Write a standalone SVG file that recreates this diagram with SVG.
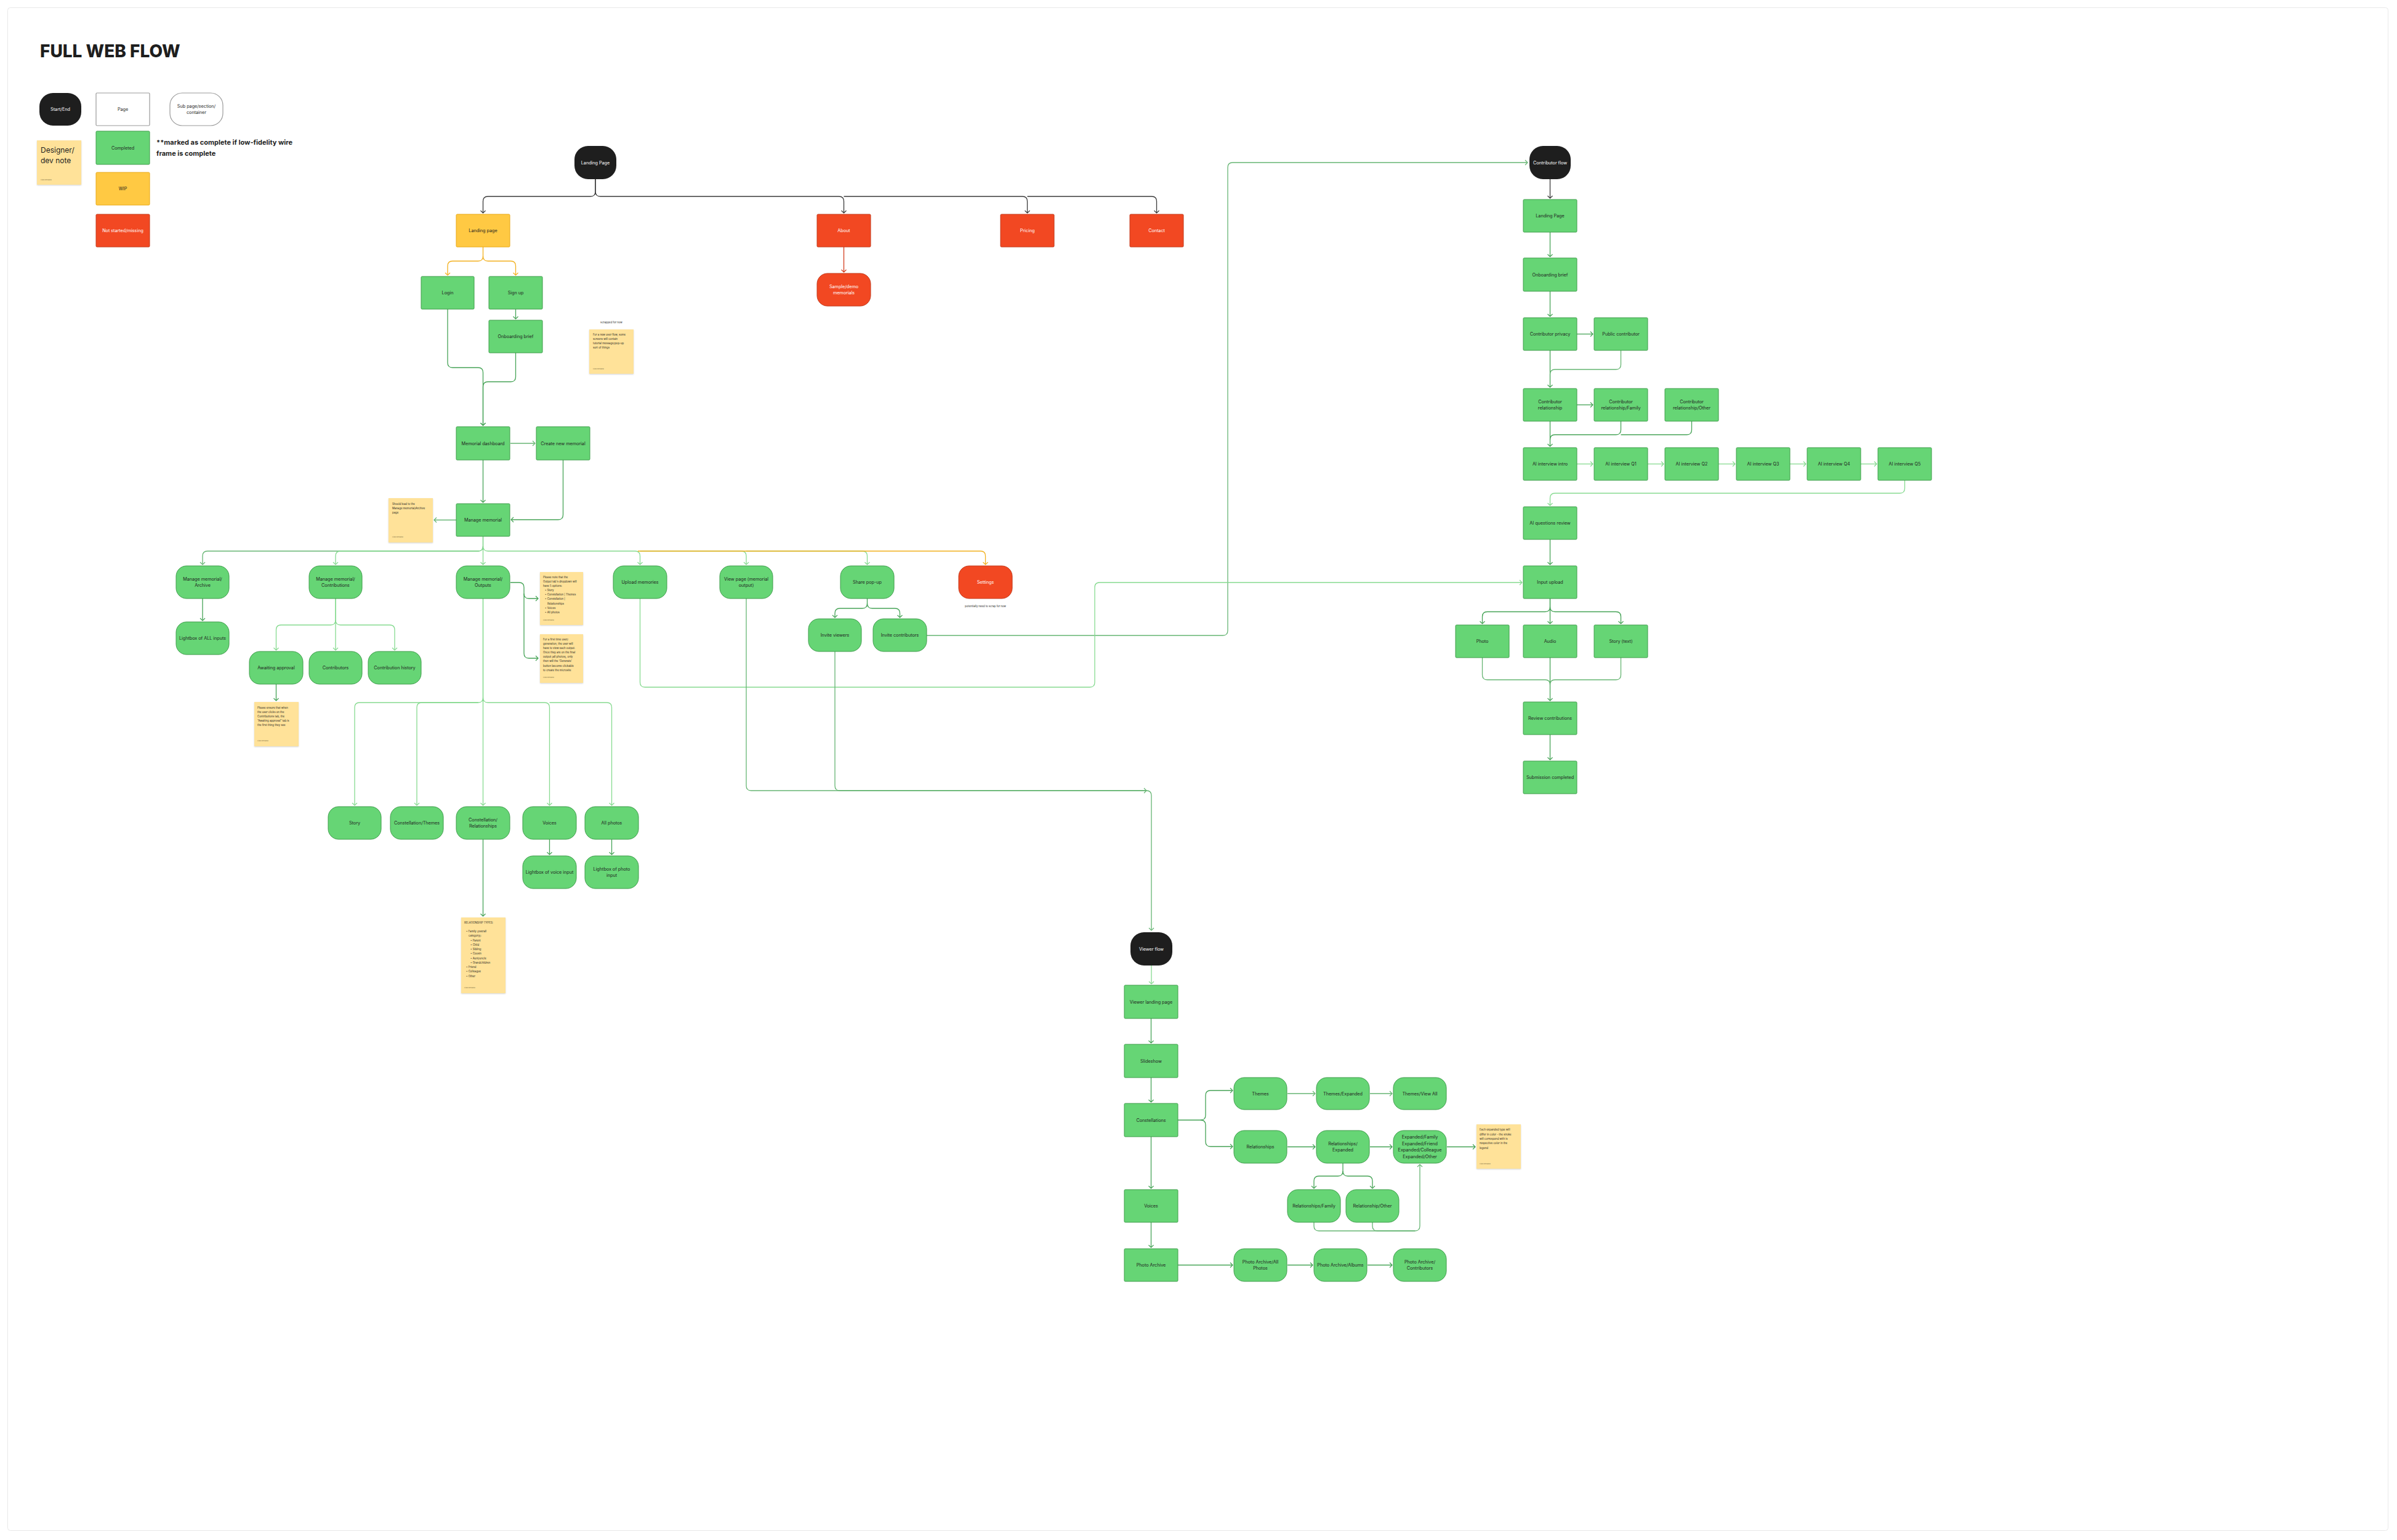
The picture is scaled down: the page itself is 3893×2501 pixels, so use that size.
<svg xmlns="http://www.w3.org/2000/svg" width="3893" height="2501" viewBox="0 0 3893 2501">
<style>
text{font-family:Inter,"Liberation Sans","DejaVu Sans",sans-serif;fill:#1E1E1E}
.t{font-size:7.2px;text-anchor:middle}
.tw{fill:#FFFFFF}
.g{fill:#66D575;stroke:#3E9C4B;stroke-width:1}
.y{fill:#FFC943;stroke:#E8A817;stroke-width:1}
.r{fill:#F24822;stroke:#C23A1C;stroke-width:1}
.k{fill:#1E1E1E}
.wpage{fill:#FFFFFF;stroke:#9A9A9A;stroke-width:1.2}
.note{fill:#FFE299;filter:url(#sh)}
.nt{font-size:4.3px}
.au{font-size:2.6px;fill:#8C7A4C}
.c{fill:none;stroke-width:1.3}
.ck{stroke:#3A3A3A;marker-end:url(#mk)}
.cd{stroke:#45A356;marker-end:url(#md)}
.cl{stroke:#86DA90;marker-end:url(#ml)}
.cm{stroke:#66B573;marker-end:url(#mm)}
.cy{stroke:#F2B01E;marker-end:url(#my)}
.cr{stroke:#D23C1E;marker-end:url(#mr)}
.nm{marker-end:none}
</style>
<defs>
<filter id="sh" x="-10%" y="-10%" width="130%" height="130%"><feDropShadow dx="0" dy="1" stdDeviation="1" flood-opacity="0.18"/></filter>
<marker id="mk" viewBox="0 0 10 10" refX="9" refY="5" markerWidth="10" markerHeight="10" markerUnits="userSpaceOnUse" orient="auto"><path d="M5,1 L9,5 L5,9" fill="none" stroke="#3A3A3A" stroke-width="1.2"/></marker>
<marker id="md" viewBox="0 0 10 10" refX="9" refY="5" markerWidth="10" markerHeight="10" markerUnits="userSpaceOnUse" orient="auto"><path d="M5,1 L9,5 L5,9" fill="none" stroke="#45A356" stroke-width="1.2"/></marker>
<marker id="ml" viewBox="0 0 10 10" refX="9" refY="5" markerWidth="10" markerHeight="10" markerUnits="userSpaceOnUse" orient="auto"><path d="M5,1 L9,5 L5,9" fill="none" stroke="#86DA90" stroke-width="1.2"/></marker>
<marker id="mm" viewBox="0 0 10 10" refX="9" refY="5" markerWidth="10" markerHeight="10" markerUnits="userSpaceOnUse" orient="auto"><path d="M5,1 L9,5 L5,9" fill="none" stroke="#66B573" stroke-width="1.2"/></marker>
<marker id="my" viewBox="0 0 10 10" refX="9" refY="5" markerWidth="10" markerHeight="10" markerUnits="userSpaceOnUse" orient="auto"><path d="M5,1 L9,5 L5,9" fill="none" stroke="#F2B01E" stroke-width="1.2"/></marker>
<marker id="mr" viewBox="0 0 10 10" refX="9" refY="5" markerWidth="10" markerHeight="10" markerUnits="userSpaceOnUse" orient="auto"><path d="M5,1 L9,5 L5,9" fill="none" stroke="#D23C1E" stroke-width="1.2"/></marker>
</defs>
<rect x="0" y="0" width="3893" height="2501" fill="#FFFFFF"/>
<rect x="12.5" y="12.5" width="3866" height="2473" rx="4" fill="#FFFFFF" stroke="#E8E8E8" stroke-width="1"/>

<text x="65" y="93" style="font-size:28px;font-weight:800">FULL WEB FLOW</text>

<g id="legend">
<g id="legend-start"><rect class="k" x="64" y="151" width="68" height="53" rx="22"/><text class="t tw" x="98" y="180.1">Start/End</text></g>
<g id="legend-page"><rect class="wpage" x="156" y="151" width="87" height="53" rx="1.5"/><text class="t" x="199.5" y="180.1">Page</text></g>
<g id="legend-sub"><rect class="wpage" x="276" y="151" width="86" height="53" rx="20"/><text class="t" x="319" y="174.7">Sub page/section/</text><text class="t" x="319" y="185.4">container</text></g>
<g id="legend-completed"><rect class="g" x="156" y="213" width="87" height="54" rx="1.5"/><text class="t" x="199.5" y="242.6">Completed</text></g>
<g id="legend-wip"><rect class="y" x="156" y="280" width="87" height="53" rx="1.5"/><text class="t" x="199.5" y="309.1">WIP</text></g>
<g id="legend-missing"><rect class="r" x="156" y="348" width="87" height="53" rx="1.5"/><text class="t tw" x="199.5" y="377.1">Not started/missing</text></g>
<g id="legend-note"><rect class="note" x="60" y="228" width="72" height="72"/><text x="66" y="248" style="font-size:12px">Designer/</text><text x="66" y="265" style="font-size:12px">dev note</text><text class="au" x="66" y="293">Kiara Bendana</text></g>
<text x="254" y="235" style="font-size:11px;font-weight:700">**marked as complete if low-fidelity wire</text>
<text x="254" y="253" style="font-size:11px;font-weight:700">frame is complete</text>
</g>

<g id="connectors">
<path class="c ck" d="M967,291 V311 Q967,319 959,319 H792.5 Q784.5,319 784.5,327 V346"/>
<path class="c ck" d="M967,291 V311 Q967,319 975,319 H1362.5 Q1370.5,319 1370.5,327 V346"/>
<path class="c ck" d="M1370.5,319 H1660.5 Q1668.5,319 1668.5,327 V346"/>
<path class="c ck" d="M1668.5,319 H1870.5 Q1878.5,319 1878.5,327 V346"/>
<path class="c cr" d="M1370.5,401 V442"/>
<path class="c cy" d="M784.5,401 V416 Q784.5,424 776.5,424 H735 Q727,424 727,432 V447"/>
<path class="c cy" d="M784.5,416 Q784.5,424 792.5,424 H829.5 Q837.5,424 837.5,432 V447"/>
<path class="c cd" d="M837.5,502 V518"/>
<path class="c cd" d="M727,502 V589 Q727,597 735,597 H776.5 Q784.5,597 784.5,605 V691"/>
<path class="c cd" d="M837.5,573 V612 Q837.5,620 829.5,620 H792.5 Q784.5,620 784.5,628 V691"/>
<path class="c cm" d="M829,720 H869"/>
<path class="c cd" d="M784.5,747 V816"/>
<path class="c cd" d="M914.5,747 V836 Q914.5,844 906.5,844 H830"/>
<path class="c cm" d="M741,844.5 H705"/>
<path class="c cm" d="M784.5,871 V887 Q784.5,895 776.5,895 H337 Q329,895 329,903 V917"/>
<path class="c cl" d="M784.5,887 Q784.5,895 776.5,895 H553 Q545,895 545,903 V917"/>
<path class="c cl" d="M784.5,871 V917"/>
<path class="c cl" d="M784.5,887 Q784.5,895 792.5,895 H1031.5 Q1039.5,895 1039.5,903 V917"/>
<path class="c cl" d="M1039.5,895 H1204 Q1212,895 1212,903 V917"/>
<path class="c cl" d="M1212,895 H1400.5 Q1408.5,895 1408.5,903 V917"/>
<path class="c cy" d="M1036,895 H1592.5 Q1600.5,895 1600.5,903 V917"/>
<path class="c cd" d="M329,972 V1008"/>
<path class="c cl" d="M545,972 V1007 Q545,1015 537,1015 H456.5 Q448.5,1015 448.5,1023 V1056"/>
<path class="c cl" d="M545,972 V1056"/>
<path class="c cl" d="M545,1007 Q545,1015 553,1015 H633 Q641,1015 641,1023 V1056"/>
<path class="c cd" d="M448.5,1111 V1138"/>
<path class="c cd" d="M829,946 H843 Q851,946 851,954 V964 Q851,972 859,972 H874"/>
<path class="c cd" d="M851,964 V1061 Q851,1069 859,1069 H874"/>
<path class="c cl" d="M784.5,972 V1133 Q784.5,1141 776.5,1141 H584 Q576,1141 576,1149 V1308"/>
<path class="c cl" d="M776.5,1141 H685 Q677,1141 677,1149 V1308"/>
<path class="c cl" d="M784.5,972 V1308"/>
<path class="c cl" d="M784.5,1133 Q784.5,1141 792.5,1141 H884.5 Q892.5,1141 892.5,1149 V1308"/>
<path class="c cl" d="M892.5,1141 H985.5 Q993.5,1141 993.5,1149 V1308"/>
<path class="c cd" d="M892.5,1363 V1388"/>
<path class="c cd" d="M993.5,1363 V1388"/>
<path class="c cd" d="M784.5,1363 V1488"/>
<path class="c cd" d="M1408.5,972 V980 Q1408.5,988 1400.5,988 H1364 Q1356,988 1356,996 V1003"/>
<path class="c cd" d="M1408.5,980 Q1408.5,988 1416.5,988 H1453.5 Q1461.5,988 1461.5,996 V1003"/>
<path class="c cm" d="M1505,1032 H1986 Q1994,1032 1994,1024 V272 Q1994,264 2002,264 H2481"/>
<path class="c cl" d="M1039.5,972 V1108 Q1039.5,1116 1047.5,1116 H1770 Q1778,1116 1778,1108 V954 Q1778,946 1786,946 H2472"/>
<path class="c cm" d="M1212,972 V1276 Q1212,1284 1220,1284 H1862 Q1870,1284 1870,1292 V1511"/>
<path class="c cm" d="M1356,1058 V1276 Q1356,1284 1364,1284 H1862"/>
<path class="c ck" d="M2517.5,291 V322"/>
<path class="c cd" d="M2517.5,377 V417"/>
<path class="c cd" d="M2517.5,473 V514"/>
<path class="c cd" d="M2561,542.5 H2587"/>
<path class="c cd" d="M2517.5,569 V629"/>
<path class="c cm nm" d="M2632.5,569 V592 Q2632.5,600 2624.5,600 H2525.5 Q2517.5,600 2517.5,608"/>
<path class="c cd" d="M2561,657.5 H2587"/>
<path class="c cd" d="M2517.5,684 V725"/>
<path class="c cd nm" d="M2632.5,684 V698 Q2632.5,706 2624.5,706 H2525.5 Q2517.5,706 2517.5,714"/>
<path class="c cd nm" d="M2747.5,684 V698 Q2747.5,706 2739.5,706 H2632.5"/>
<path class="c cl" d="M2561,753.5 H2587"/>
<path class="c cl" d="M2676,753.5 H2702"/>
<path class="c cl" d="M2791,753.5 H2818"/>
<path class="c cl" d="M2907,753.5 H2933"/>
<path class="c cl" d="M3022,753.5 H3048"/>
<path class="c cl" d="M3093.5,780 V793 Q3093.5,801 3085.5,801 H2525.5 Q2517.5,801 2517.5,809 V821"/>
<path class="c cd" d="M2517.5,876 V917"/>
<path class="c cd" d="M2517.5,972 V985.5 Q2517.5,993.5 2509.5,993.5 H2415.5 Q2407.5,993.5 2407.5,1001.5 V1013"/>
<path class="c cd" d="M2517.5,972 V1013"/>
<path class="c cd" d="M2517.5,985.5 Q2517.5,993.5 2525.5,993.5 H2624.5 Q2632.5,993.5 2632.5,1001.5 V1013"/>
<path class="c cm nm" d="M2407.5,1068 V1096 Q2407.5,1104 2415.5,1104 H2509.5 Q2517.5,1104 2517.5,1112"/>
<path class="c cd" d="M2517.5,1068 V1138"/>
<path class="c cm nm" d="M2632.5,1068 V1096 Q2632.5,1104 2624.5,1104 H2525.5 Q2517.5,1104 2517.5,1112"/>
<path class="c cd" d="M2517.5,1193 V1234"/>
<path class="c cl" d="M1870,1568 V1598"/>
<path class="c cd" d="M1869.5,1654 V1694"/>
<path class="c cd" d="M1869.5,1750 V1790"/>
<path class="c cd" d="M1869.5,1846 V1930"/>
<path class="c cd" d="M1869.5,1985 V2026"/>
<path class="c cd" d="M1913,1819 H1950 Q1958,1819 1958,1811 V1779 Q1958,1771 1966,1771 H2002"/>
<path class="c cd" d="M1950,1819 Q1958,1819 1958,1827 V1854 Q1958,1862 1966,1862 H2002"/>
<path class="c cm" d="M2091,1776 H2136"/>
<path class="c cm" d="M2225,1776 H2261"/>
<path class="c cd" d="M2091,1862.5 H2136"/>
<path class="c cd" d="M2225,1862.5 H2261"/>
<path class="c cd" d="M2350,1862.5 H2396"/>
<path class="c cd" d="M2181,1889 V1902 Q2181,1910 2173,1910 H2142 Q2134,1910 2134,1918 V1930"/>
<path class="c cd" d="M2181,1902 Q2181,1910 2189,1910 H2221 Q2229,1910 2229,1918 V1930"/>
<path class="c cm" d="M2134,1985 V1991 Q2134,1999 2142,1999 H2298 Q2306,1999 2306,1991 V1891"/>
<path class="c cm nm" d="M2229,1985 V1991 Q2229,1999 2237,1999 H2298"/>
<path class="c cd" d="M1913,2054.5 H2002"/>
<path class="c cd" d="M2091,2054.5 H2132"/>
<path class="c cd" d="M2221,2054.5 H2261"/>
</g>

<g id="n-start-landing"><rect class="k" x="933" y="237" width="68" height="54" rx="22"/><text class="t tw" x="967" y="266.6">Landing Page</text></g>
<g id="n-landing"><rect class="y" x="741" y="348" width="87" height="53" rx="1.5"/><text class="t" x="784.5" y="377.1">Landing page</text></g>
<g id="n-about"><rect class="r" x="1327" y="348" width="87" height="53" rx="1.5"/><text class="t tw" x="1370.5" y="377.1">About</text></g>
<g id="n-pricing"><rect class="r" x="1625" y="348" width="87" height="53" rx="1.5"/><text class="t tw" x="1668.5" y="377.1">Pricing</text></g>
<g id="n-contact"><rect class="r" x="1835" y="348" width="87" height="53" rx="1.5"/><text class="t tw" x="1878.5" y="377.1">Contact</text></g>
<g id="n-sample"><rect class="r" x="1327" y="444" width="87" height="53" rx="17"/><text class="t tw" x="1370.5" y="467.7">Sample/demo</text><text class="t tw" x="1370.5" y="478.4">memorials</text></g>
<g id="n-login"><rect class="g" x="684" y="449" width="86" height="53" rx="1.5"/><text class="t" x="727" y="478.1">Login</text></g>
<g id="n-signup"><rect class="g" x="794" y="449" width="87" height="53" rx="1.5"/><text class="t" x="837.5" y="478.1">Sign up</text></g>
<g id="n-onboarding"><rect class="g" x="794" y="520" width="87" height="53" rx="1.5"/><text class="t" x="837.5" y="549.1">Onboarding brief</text></g>
<g id="note-scrapped"><text class="nt" x="993" y="525" text-anchor="middle">scrapped for now</text><rect class="note" x="957" y="535" width="72" height="72"/><text class="nt" x="963"><tspan x="963" y="545">For a new user flow, some</tspan><tspan x="963" y="552">screens will contain</tspan><tspan x="963" y="559">tutorial message/pop-up</tspan><tspan x="963" y="566">sort of things</tspan></text><text class="au" x="963" y="600">Kiara Bendana</text></g>
<g id="n-dashboard"><rect class="g" x="741" y="693" width="87" height="54" rx="1.5"/><text class="t" x="784.5" y="722.6">Memorial dashboard</text></g>
<g id="n-create"><rect class="g" x="871" y="693" width="87" height="54" rx="1.5"/><text class="t" x="914.5" y="722.6">Create new memorial</text></g>
<g id="n-manage"><rect class="g" x="741" y="818" width="87" height="53" rx="1.5"/><text class="t" x="784.5" y="847.1">Manage memorial</text></g>
<g id="note-archive"><rect class="note" x="631" y="809" width="72" height="72"/><text class="nt"><tspan x="637" y="820">Should lead to the</tspan><tspan x="637" y="827">Manage memorial/Archive</tspan><tspan x="637" y="834">page</tspan></text><text class="au" x="637" y="873">Kiara Bendana</text></g>
<g id="n-archive"><rect class="g" x="286" y="919" width="86" height="53" rx="17"/><text class="t" x="329" y="942.7">Manage memorial/</text><text class="t" x="329" y="953.4">Archive</text></g>
<g id="n-contributions"><rect class="g" x="502" y="919" width="86" height="53" rx="17"/><text class="t" x="545" y="942.7">Manage memorial/</text><text class="t" x="545" y="953.4">Contributions</text></g>
<g id="n-outputs"><rect class="g" x="741" y="919" width="87" height="53" rx="17"/><text class="t" x="784.5" y="942.7">Manage memorial/</text><text class="t" x="784.5" y="953.4">Outputs</text></g>
<g id="n-upload"><rect class="g" x="996" y="919" width="87" height="53" rx="17"/><text class="t" x="1039.5" y="948.1">Upload memories</text></g>
<g id="n-viewpage"><rect class="g" x="1169" y="919" width="86" height="53" rx="17"/><text class="t" x="1212" y="942.7">View page (memorial</text><text class="t" x="1212" y="953.4">output)</text></g>
<g id="n-share"><rect class="g" x="1365" y="919" width="87" height="53" rx="17"/><text class="t" x="1408.5" y="948.1">Share pop-up</text></g>
<g id="n-settings"><rect class="r" x="1557" y="919" width="87" height="53" rx="17"/><text class="t tw" x="1600.5" y="948.1">Settings</text><text x="1600.5" y="986" text-anchor="middle" style="font-size:4.3px">potentially need to scrap for now</text></g>
<g id="n-lightbox-all"><rect class="g" x="286" y="1010" width="86" height="53" rx="17"/><text class="t" x="329" y="1039.1">Lightbox of ALL inputs</text></g>
<g id="n-awaiting"><rect class="g" x="405" y="1058" width="87" height="53" rx="17"/><text class="t" x="448.5" y="1087.1">Awaiting approval</text></g>
<g id="n-contributors"><rect class="g" x="502" y="1058" width="86" height="53" rx="17"/><text class="t" x="545" y="1087.1">Contributors</text></g>
<g id="n-history"><rect class="g" x="598" y="1058" width="86" height="53" rx="17"/><text class="t" x="641" y="1087.1">Contribution history</text></g>
<g id="note-awaiting"><rect class="note" x="413" y="1140" width="72" height="72"/><text class="nt"><tspan x="418" y="1151">Please ensure that when</tspan><tspan x="418" y="1158">the user clicks on the</tspan><tspan x="418" y="1165">Contributions tab, the</tspan><tspan x="418" y="1172">“Awaiting approval” tab is</tspan><tspan x="418" y="1179">the first thing they see</tspan></text><text class="au" x="418" y="1204">Kiara Bendana</text></g>
<g id="note-dropdown"><rect class="note" x="877" y="929" width="70" height="86"/><text class="nt"><tspan x="882" y="939">Please note that the</tspan><tspan x="882" y="946">Output tab's dropdown will</tspan><tspan x="882" y="953">have 5 options:</tspan><tspan x="885" y="960">• Story</tspan><tspan x="885" y="967">• Constellation | Themes</tspan><tspan x="885" y="974">• Constellation |</tspan><tspan x="889" y="981.5">Relationships</tspan><tspan x="885" y="989">• Voices</tspan><tspan x="885" y="996">• All photos</tspan></text><text class="au" x="882" y="1008">Kiara Bendana</text></g>
<g id="note-firsttime"><rect class="note" x="877" y="1030" width="70" height="79"/><text class="nt"><tspan x="882" y="1040">For a first time user/</tspan><tspan x="882" y="1047">generation, the user will</tspan><tspan x="882" y="1054">have to view each output.</tspan><tspan x="882" y="1061">Once they are on the final</tspan><tspan x="882" y="1068">output (all photos), only</tspan><tspan x="882" y="1075">then will the 'Generate'</tspan><tspan x="882" y="1082.5">button become clickable</tspan><tspan x="882" y="1090">to create the microsite</tspan></text><text class="au" x="882" y="1101">Kiara Bendana</text></g>
<g id="n-invite-viewers"><rect class="g" x="1313" y="1005" width="86" height="53" rx="17"/><text class="t" x="1356" y="1034.1">Invite viewers</text></g>
<g id="n-invite-contributors"><rect class="g" x="1418" y="1005" width="87" height="53" rx="17"/><text class="t" x="1461.5" y="1034.1">Invite contributors</text></g>
<g id="n-story"><rect class="g" x="533" y="1310" width="86" height="53" rx="17"/><text class="t" x="576" y="1339.1">Story</text></g>
<g id="n-const-themes"><rect class="g" x="634" y="1310" width="86" height="53" rx="17"/><text class="t" x="677" y="1339.1">Constellation/Themes</text></g>
<g id="n-const-rel"><rect class="g" x="741" y="1310" width="87" height="53" rx="17"/><text class="t" x="784.5" y="1333.7">Constellation/</text><text class="t" x="784.5" y="1344.4">Relationships</text></g>
<g id="n-voices"><rect class="g" x="849" y="1310" width="87" height="53" rx="17"/><text class="t" x="892.5" y="1339.1">Voices</text></g>
<g id="n-allphotos"><rect class="g" x="950" y="1310" width="87" height="53" rx="17"/><text class="t" x="993.5" y="1339.1">All photos</text></g>
<g id="n-lb-voice"><rect class="g" x="849" y="1390" width="87" height="53" rx="17"/><text class="t" x="892.5" y="1419.1">Lightbox of voice input</text></g>
<g id="n-lb-photo"><rect class="g" x="950" y="1390" width="87" height="53" rx="17"/><text class="t" x="993.5" y="1413.7">Lightbox of photo</text><text class="t" x="993.5" y="1424.4">input</text></g>
<g id="note-reltypes"><rect class="note" x="749" y="1490" width="72" height="123"/><text class="nt"><tspan x="754" y="1500">RELATIONSHIP TYPES:</tspan><tspan x="757" y="1514">• Family (overall</tspan><tspan x="761" y="1521">category):</tspan><tspan x="764" y="1528.5">• Parent</tspan><tspan x="764" y="1536">• Child</tspan><tspan x="764" y="1543">• Sibling</tspan><tspan x="764" y="1550">• Cousin</tspan><tspan x="764" y="1557.5">• Aunt/uncle</tspan><tspan x="764" y="1565">• Grandchildren</tspan><tspan x="757" y="1572">• Friend</tspan><tspan x="757" y="1579">• Colleague</tspan><tspan x="757" y="1586.5">• Other</tspan></text><text class="au" x="754" y="1605">Kiara Bendana</text></g>

<g id="n-contributor-flow"><rect class="k" x="2484" y="237" width="67" height="54" rx="22"/><text class="t tw" x="2517.5" y="266.6">Contributor flow</text></g>
<g id="n-c-landing"><rect class="g" x="2474" y="324" width="87" height="53" rx="1.5"/><text class="t" x="2517.5" y="353.1">Landing Page</text></g>
<g id="n-c-onboarding"><rect class="g" x="2474" y="419" width="87" height="54" rx="1.5"/><text class="t" x="2517.5" y="448.6">Onboarding brief</text></g>
<g id="n-c-privacy"><rect class="g" x="2474" y="516" width="87" height="53" rx="1.5"/><text class="t" x="2517.5" y="545.1">Contributor privacy</text></g>
<g id="n-c-public"><rect class="g" x="2589" y="516" width="87" height="53" rx="1.5"/><text class="t" x="2632.5" y="545.1">Public contributor</text></g>
<g id="n-c-rel"><rect class="g" x="2474" y="631" width="87" height="53" rx="1.5"/><text class="t" x="2517.5" y="654.7">Contributor</text><text class="t" x="2517.5" y="665.4">relationship</text></g>
<g id="n-c-rel-family"><rect class="g" x="2589" y="631" width="87" height="53" rx="1.5"/><text class="t" x="2632.5" y="654.7">Contributor</text><text class="t" x="2632.5" y="665.4">relationship/Family</text></g>
<g id="n-c-rel-other"><rect class="g" x="2704" y="631" width="87" height="53" rx="1.5"/><text class="t" x="2747.5" y="654.7">Contributor</text><text class="t" x="2747.5" y="665.4">relationship/Other</text></g>
<g id="n-ai-intro"><rect class="g" x="2474" y="727" width="87" height="53" rx="1.5"/><text class="t" x="2517.5" y="756.1">AI interview intro</text></g>
<g id="n-ai-q1"><rect class="g" x="2589" y="727" width="87" height="53" rx="1.5"/><text class="t" x="2632.5" y="756.1">AI interview Q1</text></g>
<g id="n-ai-q2"><rect class="g" x="2704" y="727" width="87" height="53" rx="1.5"/><text class="t" x="2747.5" y="756.1">AI interview Q2</text></g>
<g id="n-ai-q3"><rect class="g" x="2820" y="727" width="87" height="53" rx="1.5"/><text class="t" x="2863.5" y="756.1">AI interview Q3</text></g>
<g id="n-ai-q4"><rect class="g" x="2935" y="727" width="87" height="53" rx="1.5"/><text class="t" x="2978.5" y="756.1">AI interview Q4</text></g>
<g id="n-ai-q5"><rect class="g" x="3050" y="727" width="87" height="53" rx="1.5"/><text class="t" x="3093.5" y="756.1">AI interview Q5</text></g>
<g id="n-ai-review"><rect class="g" x="2474" y="823" width="87" height="53" rx="1.5"/><text class="t" x="2517.5" y="852.1">AI questions review</text></g>
<g id="n-input-upload"><rect class="g" x="2474" y="919" width="87" height="53" rx="1.5"/><text class="t" x="2517.5" y="948.1">Input upload</text></g>
<g id="n-photo"><rect class="g" x="2364" y="1015" width="87" height="53" rx="1.5"/><text class="t" x="2407.5" y="1044.1">Photo</text></g>
<g id="n-audio"><rect class="g" x="2474" y="1015" width="87" height="53" rx="1.5"/><text class="t" x="2517.5" y="1044.1">Audio</text></g>
<g id="n-story-text"><rect class="g" x="2589" y="1015" width="87" height="53" rx="1.5"/><text class="t" x="2632.5" y="1044.1">Story (text)</text></g>
<g id="n-review"><rect class="g" x="2474" y="1140" width="87" height="53" rx="1.5"/><text class="t" x="2517.5" y="1169.1">Review contributions</text></g>
<g id="n-submitted"><rect class="g" x="2474" y="1236" width="87" height="53" rx="1.5"/><text class="t" x="2517.5" y="1265.1">Submission completed</text></g>

<g id="n-viewer-flow"><rect class="k" x="1836" y="1514" width="68" height="54" rx="22"/><text class="t tw" x="1870" y="1543.6">Viewer flow</text></g>
<g id="n-v-landing"><rect class="g" x="1826" y="1600" width="87" height="54" rx="1.5"/><text class="t" x="1869.5" y="1629.6">Viewer landing page</text></g>
<g id="n-slideshow"><rect class="g" x="1826" y="1696" width="87" height="54" rx="1.5"/><text class="t" x="1869.5" y="1725.6">Slideshow</text></g>
<g id="n-constellations"><rect class="g" x="1826" y="1792" width="87" height="54" rx="1.5"/><text class="t" x="1869.5" y="1821.6">Constellations</text></g>
<g id="n-v-voices"><rect class="g" x="1826" y="1932" width="87" height="53" rx="1.5"/><text class="t" x="1869.5" y="1961.1">Voices</text></g>
<g id="n-photo-archive"><rect class="g" x="1826" y="2028" width="87" height="53" rx="1.5"/><text class="t" x="1869.5" y="2057.1">Photo Archive</text></g>
<g id="n-themes"><rect class="g" x="2004" y="1750" width="86" height="52" rx="17"/><text class="t" x="2047" y="1778.6">Themes</text></g>
<g id="n-themes-exp"><rect class="g" x="2138" y="1750" width="86" height="52" rx="17"/><text class="t" x="2181" y="1778.6">Themes/Expanded</text></g>
<g id="n-themes-all"><rect class="g" x="2263" y="1750" width="86" height="52" rx="17"/><text class="t" x="2306" y="1778.6">Themes/View All</text></g>
<g id="n-relationships"><rect class="g" x="2004" y="1836" width="86" height="53" rx="17"/><text class="t" x="2047" y="1865.1">Relationships</text></g>
<g id="n-rel-exp"><rect class="g" x="2138" y="1836" width="86" height="53" rx="17"/><text class="t" x="2181" y="1859.7">Relationships/</text><text class="t" x="2181" y="1870.4">Expanded</text></g>
<g id="n-expanded-types"><rect class="g" x="2263" y="1836" width="86" height="53" rx="17"/><text class="t" x="2306" y="1849">Expanded/Family</text><text class="t" x="2306" y="1859.7">Expanded/Friend</text><text class="t" x="2306" y="1870.4">Expanded/Colleague</text><text class="t" x="2306" y="1881.1">Expanded/Other</text></g>
<g id="note-expanded"><rect class="note" x="2398" y="1826" width="72" height="72"/><text class="nt"><tspan x="2403" y="1836">Each expanded type will</tspan><tspan x="2403" y="1843.5">differ in color - the stroke</tspan><tspan x="2403" y="1851">will correspond with is</tspan><tspan x="2403" y="1858">respective color in the</tspan><tspan x="2403" y="1865.5">legend</tspan></text><text class="au" x="2403" y="1891">Kiara Bendana</text></g>
<g id="n-rel-family"><rect class="g" x="2091" y="1932" width="86" height="53" rx="17"/><text class="t" x="2134" y="1961.1">Relationships/Family</text></g>
<g id="n-rel-other"><rect class="g" x="2186" y="1932" width="86" height="53" rx="17"/><text class="t" x="2229" y="1961.1">Relationship/Other</text></g>
<g id="n-pa-all"><rect class="g" x="2004" y="2028" width="86" height="53" rx="17"/><text class="t" x="2047" y="2051.7">Photo Archive/All</text><text class="t" x="2047" y="2062.4">Photos</text></g>
<g id="n-pa-albums"><rect class="g" x="2134" y="2028" width="86" height="53" rx="17"/><text class="t" x="2177" y="2057.1">Photo Archive/Albums</text></g>
<g id="n-pa-contributors"><rect class="g" x="2263" y="2028" width="86" height="53" rx="17"/><text class="t" x="2306" y="2051.7">Photo Archive/</text><text class="t" x="2306" y="2062.4">Contributors</text></g>
</svg>
